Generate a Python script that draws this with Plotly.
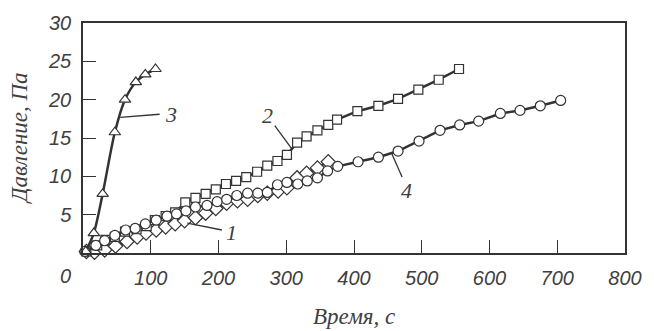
import plotly.graph_objects as go

# ---- data ----
s1_x = [5, 17, 32, 48, 65, 80, 93, 108, 122, 136, 150, 166, 181, 196, 212, 228, 243, 258, 272, 288, 301, 316, 330, 346, 362]
s1_y = [0.2, 0.1, 0.4, 0.9, 1.5, 2.1, 2.6, 3.0, 3.4, 3.8, 4.2, 4.6, 5.2, 5.8, 6.5, 6.8, 7.0, 7.5, 7.8, 8.1, 8.5, 9.8, 10.4, 11.1, 11.9]

s2_x = [5, 21, 33, 47, 62, 79, 94, 106, 122, 136, 151, 166, 181, 196, 211, 226, 241, 257, 272, 287, 301, 316, 330, 346, 362, 375, 405, 436, 465, 495, 525, 555]
s2_y = [0.2, 1.0, 1.7, 2.1, 2.8, 3.1, 3.5, 4.3, 4.8, 5.3, 6.6, 7.2, 7.7, 8.3, 9.0, 9.4, 9.9, 10.6, 11.4, 12.0, 12.8, 14.4, 15.2, 16.0, 16.7, 17.4, 18.5, 19.2, 20.1, 21.3, 22.6, 24.0]

s3_x = [4, 16, 29, 47, 62, 78, 92, 107]
s3_y = [0.2, 2.6, 7.7, 15.75, 20.0, 22.3, 23.3, 24.0]

s4_x = [3, 19, 32, 47, 63, 77, 92, 108, 124, 138, 152, 166, 183, 198, 212, 227, 243, 258, 272, 287, 301, 317, 331, 346, 361, 376, 406, 436, 465, 496, 527, 556, 584, 616, 645, 675, 705]
s4_y = [0.2, 1.0, 1.6, 2.3, 3.0, 3.2, 3.8, 4.3, 4.8, 5.1, 5.5, 6.0, 6.2, 6.7, 7.0, 7.5, 7.8, 7.8, 7.9, 8.9, 9.2, 9.0, 9.4, 9.8, 10.7, 11.3, 11.9, 12.5, 13.3, 14.6, 16.0, 16.7, 17.2, 18.2, 18.6, 19.2, 19.9]

x_ticks = [0, 100, 200, 300, 400, 500, 600, 700, 800]
x_tick_labels = ["", "100", "200", "300", "400", "500", "600", "700", "800"]
y_ticks = [5, 10, 15, 20, 25, 30]
y_tick_labels = ["5", "10", "15", "20", "25", "30"]

# callouts: label, text position, leader line start/end (data units)
callout_labels = ["1", "2", "3", "4"]
callout_text_x = [219, 272, 130, 478]
callout_text_y = [2.7, 17.9, 18.1, 8.1]
leader_x0 = [154, 283, 55, 456]
leader_y0 = [3.9, 16.6, 17.7, 12.9]
leader_x1 = [205, 308, 113, 471]
leader_y1 = [3.0, 13.6, 18.1, 9.9]

DARK = "#333333"
TXT = "#404040"

fig = go.Figure()

def add_series(x, y, symbol, size, shape="linear"):
    fig.add_trace(go.Scatter(
        x=x, y=y, mode="lines+markers",
        line=dict(color=DARK, width=2.5, shape=shape, smoothing=0.8),
        marker=dict(symbol=symbol, size=size, color="white",
                    line=dict(color=DARK, width=1.2)),
        showlegend=False, cliponaxis=False))

add_series(s1_x, s1_y, "diamond", 11)
add_series(s2_x, s2_y, "square", 9)
add_series(s4_x, s4_y, "circle", 10)
add_series(s3_x, s3_y, "triangle-up", 10, shape="spline")

for lab, tx, ty, a0, b0, a1, b1 in zip(callout_labels, callout_text_x, callout_text_y,
                                       leader_x0, leader_y0, leader_x1, leader_y1):
    fig.add_shape(type="line", x0=a0, y0=b0, x1=a1, y1=b1, xref="x", yref="y",
                  line=dict(color=DARK, width=1.3))
    fig.add_annotation(x=tx, y=ty, xref="x", yref="y", text=lab, showarrow=False,
                       font=dict(family="Liberation Serif", size=22, color=TXT, style="italic"))

tick_font = dict(family="Liberation Sans", size=20, color=TXT, style="italic")

fig.update_xaxes(range=[0, 800], tickvals=x_ticks, ticktext=x_tick_labels,
                 ticks="inside", ticklen=13, tickwidth=1.3, tickcolor=DARK,
                 showline=True, linecolor=DARK, linewidth=1.5, mirror=True,
                 showgrid=False, zeroline=False, tickfont=tick_font,
                 ticklabelstandoff=6)
fig.update_yaxes(range=[0, 30], tickvals=y_ticks, ticktext=y_tick_labels,
                 ticks="inside", ticklen=13, tickwidth=1.3, tickcolor=DARK,
                 showline=True, linecolor=DARK, linewidth=1.5, mirror=True,
                 showgrid=False, zeroline=False, tickfont=tick_font,
                 ticklabelstandoff=6)

# corner "0" label
fig.add_annotation(x=-0.033, y=-0.1, xref="paper", yref="paper", text="0",
                   showarrow=False, font=tick_font, xanchor="center", yanchor="middle")
# axis titles
title_font = dict(family="Liberation Serif", size=23, color=TXT, style="italic")
fig.add_annotation(x=0.5, y=-0.275, xref="paper", yref="paper", text="Время, с",
                   showarrow=False, font=title_font, xanchor="center", yanchor="middle")
fig.add_annotation(x=-0.118, y=0.5, xref="paper", yref="paper", text="Давление, Па",
                   showarrow=False, font=title_font, textangle=-90,
                   xanchor="center", yanchor="middle")

fig.update_layout(width=654, height=331, margin=dict(l=83, r=22, t=18, b=78),
                  paper_bgcolor="white", plot_bgcolor="white")

fig.write_html("out.html")
